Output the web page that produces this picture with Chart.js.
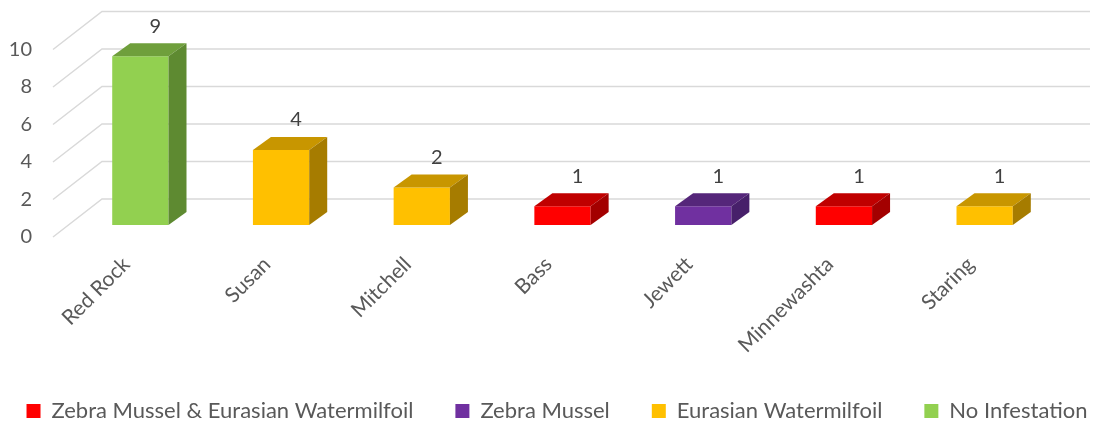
<!DOCTYPE html>
<html>
<head>
<meta charset="utf-8">
<script src="https://cdn.jsdelivr.net/npm/chart.js@4/dist/chart.umd.min.js"></script>
<style>
  html, body { margin: 0; padding: 0; background: #ffffff; }
  #wrap { width: 1094px; height: 424px; }
</style>
</head>
<body>
<div id="wrap"><canvas id="c" width="1094" height="424"></canvas></div>
<script>
// Lakes and the number of infested sites in each
const lakes = ['Red Rock', 'Susan', 'Mitchell', 'Bass', 'Jewett', 'Minnewashta', 'Staring'];
const sites = [9, 4, 2, 1, 1, 1, 1];
const lakeStatus = [
  'No Infestation',
  'Eurasian Watermilfoil',
  'Eurasian Watermilfoil',
  'Zebra Mussel & Eurasian Watermilfoil',
  'Zebra Mussel',
  'Zebra Mussel & Eurasian Watermilfoil',
  'Eurasian Watermilfoil'
];
const statusGroups = ['Zebra Mussel & Eurasian Watermilfoil', 'Zebra Mussel', 'Eurasian Watermilfoil', 'No Infestation'];
const yTickValues = [0, 2, 4, 6, 8, 10];

// face colours per group: front, top, side
const frontColors = ['#FF0000', '#7030A0', '#FFC000', '#92D050'];
const topColors   = ['#C00000', '#55267A', '#C89600', '#6F9F3C'];
const sideColors  = ['#A30000', '#47206A', '#A67C00', '#5E8A31'];

const TEXT = '#595959';
const FONT = 'Lato, "DejaVu Sans", sans-serif';

// depth of each box and of the floor
const DEPTH_X = 18, DEPTH_Y = 13;
const WALL_BACK_X = 32, WALL_BACK_Y = -26;
const WALL_FRONT_X = -17, WALL_FRONT_Y = 12;

const datasets = statusGroups.map((g, i) => ({
  label: g,
  data: sites.map((v, j) => (lakeStatus[j] === g ? v : null)),
  backgroundColor: frontColors[i],
  borderWidth: 0,
  topColor: topColors[i],
  sideColor: sideColors[i]
}));

// back wall, floor edge and diagonal grid lines; box faces and value labels
const wallPlugin = {
  id: 'wall',
  beforeDatasetsDraw(chart) {
    const { ctx, chartArea } = chart;
    const y = chart.scales.y;
    ctx.save();
    ctx.strokeStyle = '#D9D9D9';
    ctx.lineWidth = 1.5;
    yTickValues.forEach(v => {
      const py = y.getPixelForValue(v);
      ctx.beginPath();
      ctx.moveTo(chartArea.left + WALL_FRONT_X, py + WALL_FRONT_Y);
      ctx.lineTo(chartArea.left + WALL_BACK_X, py + WALL_BACK_Y);
      ctx.lineTo(chartArea.right + 35, py + WALL_BACK_Y);
      ctx.stroke();
    });
    ctx.restore();
  },
  afterDatasetsDraw(chart) {
    const { ctx } = chart;
    ctx.save();
    chart.data.datasets.forEach((ds, di) => {
      const meta = chart.getDatasetMeta(di);
      meta.data.forEach((bar, j) => {
        if (ds.data[j] == null) return;
        const { x, y, base, width } = bar.getProps(['x', 'y', 'base', 'width'], true);
        const l = x - width / 2, r = x + width / 2;
        ctx.fillStyle = ds.topColor;
        ctx.beginPath();
        ctx.moveTo(l, y);
        ctx.lineTo(r, y);
        ctx.lineTo(r + DEPTH_X, y - DEPTH_Y);
        ctx.lineTo(l + DEPTH_X, y - DEPTH_Y);
        ctx.closePath();
        ctx.fill();
        ctx.fillStyle = ds.sideColor;
        ctx.beginPath();
        ctx.moveTo(r, y);
        ctx.lineTo(r + DEPTH_X, y - DEPTH_Y);
        ctx.lineTo(r + DEPTH_X, base - DEPTH_Y);
        ctx.lineTo(r, base);
        ctx.closePath();
        ctx.fill();
        ctx.fillStyle = '#404040';
        ctx.font = '20px ' + FONT;
        ctx.textAlign = 'center';
        ctx.textBaseline = 'middle';
        ctx.fillText(String(ds.data[j]), x + 15, y - 30);
      });
    });
    ctx.restore();
  }
};

new Chart(document.getElementById('c'), {
  type: 'bar',
  data: { labels: lakes, datasets },
  plugins: [wallPlugin],
  options: {
    responsive: false,
    animation: false,
    devicePixelRatio: 1,
    datasets: { bar: { grouped: false, barPercentage: 0.4, categoryPercentage: 1 } },
    layout: { padding: { left: -20, right: -40, top: 37.5, bottom: -8 } },
    plugins: {
      tooltip: { enabled: false },
      legend: {
        position: 'bottom',
        labels: {
          boxWidth: 14,
          boxHeight: 14,
          padding: 42,
          color: TEXT,
          font: { family: FONT, size: 22 }
        }
      }
    },
    scales: {
      x: {
        grid: { display: false, drawTicks: false },
        border: { display: false },
        ticks: {
          color: TEXT,
          font: { family: FONT, size: 21 },
          maxRotation: 45,
          minRotation: 45,
          padding: 27,
          labelOffset: -14,
          autoSkip: false
        },
        afterFit(scale) { scale.height = 133; }
      },
      y: {
        min: 0,
        max: 10,
        grid: { display: false, drawTicks: false },
        border: { display: false },
        afterBuildTicks(scale) { scale.ticks = yTickValues.map(v => ({ value: v })); },
        ticks: {
          color: TEXT,
          font: { family: FONT, size: 20 },
          padding: 38,
          labelOffset: 12,
          autoSkip: false
        },
        afterFit(scale) { scale.width = 90; scale.paddingTop = 0; scale.paddingBottom = 0; }
      },
      // empty right-hand margin beside the back wall
      yRight: {
        position: 'right',
        display: true,
        grid: { display: false, drawTicks: false },
        border: { display: false },
        ticks: { display: false },
        afterFit(scale) { scale.width = 79; }
      }
    }
  }
});
</script>
</body>
</html>
